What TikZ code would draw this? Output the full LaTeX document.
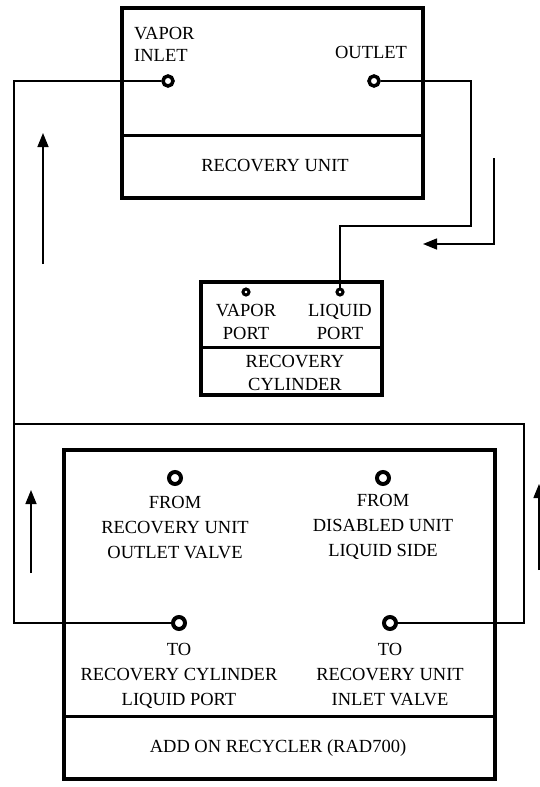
\documentclass[tikz,border=0pt]{standalone}
\usepackage{fontspec}
\setmainfont{Liberation Serif}
\usetikzlibrary{arrows.meta,positioning}

\begin{document}
\begin{tikzpicture}[x=1pt, y=-1pt, >={Triangle[length=14pt,width=11pt]},
  every node/.style={font=\fontsize{18.5}{25}\selectfont, align=center, inner sep=0pt},
  unit/.style={draw, line width=3.5pt},
  split/.style={draw, line width=3pt},
  pipe/.style={draw, line width=1.5pt},
  flow/.style={draw, line width=1.5pt, ->},
  port/.style={circle, draw, line width=3.5pt, minimum size=10pt, fill=white},
  pin/.style={circle, draw, line width=3pt, minimum size=6pt, fill=white},
  valve/.style={circle, draw, line width=4pt, minimum size=12pt, fill=white}]
  \useasboundingbox (0,0) rectangle (539,787);
  % recovery unit
  \draw[unit] (122,8) rectangle (423,198);
  \draw[split] (122,135) -- (423,135);
  \node (vin) [port] at (168,81) {};
  \node (vout) [port] at (374,81) {};
  \node (vinlbl) [align=left, anchor=west, font=\fontsize{18.5}{22}\selectfont] at (134,44) {VAPOR\\INLET};
  \node (voutlbl) at (371,52) {OUTLET};
  \node (rulbl) at (275,166) {RECOVERY UNIT};
  % recovery cylinder
  \draw[unit] (201,282) rectangle (382,395);
  \draw[split] (201,347) -- (382,347);
  \node (cvap) [pin] at (246,292) {};
  \node (cliq) [pin] at (340,292) {};
  \begin{scope}[every node/.append style={font=\fontsize{18.5}{22.5}\selectfont}]
  \node (cvaplbl) [below=8pt of cvap] {VAPOR\\PORT};
  \node (cliqlbl) [below=8pt of cliq] {LIQUID\\PORT};
  \node (cyllbl) at (295,373) {RECOVERY\\CYLINDER};
  \end{scope}
  % add on recycler
  \draw[unit] (64,450) rectangle (495,779);
  \draw[split] (64,716) -- (495,716);
  \node (fromru) [valve] at (175,478) {};
  \node (fromdu) [valve] at (383,478) {};
  \node (tocyl) [valve] at (179,623) {};
  \node (toru) [valve] at (390,623) {};
  \node (fromrulbl) [below=10pt of fromru] {FROM\\RECOVERY UNIT\\OUTLET VALVE};
  \node (fromdulbl) [below=8pt of fromdu] {FROM\\DISABLED UNIT\\LIQUID SIDE};
  \node (tocyllbl) [below=12pt of tocyl] {TO\\RECOVERY CYLINDER\\LIQUID PORT};
  \node (torulbl) [below=12pt of toru] {TO\\RECOVERY UNIT\\INLET VALVE};
  \node (rclbl) at (278,748) {ADD ON RECYCLER (RAD700)};
  % lines
  \coordinate (lft) at (14,424);
  \coordinate (rgt) at (524,424);
  \coordinate (bend) at (471,226);
  \draw[pipe] (vin) -| (lft) -- (rgt) |- (toru);
  \draw[pipe] (tocyl) -| (lft);
  \draw[pipe] (vout) -| (bend) -| (cliq);
  % flow arrows
  \coordinate (a1) at (43,264);  \coordinate (a1t) at (43,133);
  \coordinate (a2) at (494,158); \coordinate (a2t) at (423,244);
  \coordinate (a3) at (31,573);  \coordinate (a3t) at (31,490);
  \coordinate (a4) at (539,570); \coordinate (a4t) at (539,484);
  \draw[flow] (a1) -- (a1t);
  \draw[flow] (a2) |- (a2t);
  \draw[flow] (a3) -- (a3t);
  \draw[flow] (a4) -- (a4t);
\end{tikzpicture}
\end{document}
